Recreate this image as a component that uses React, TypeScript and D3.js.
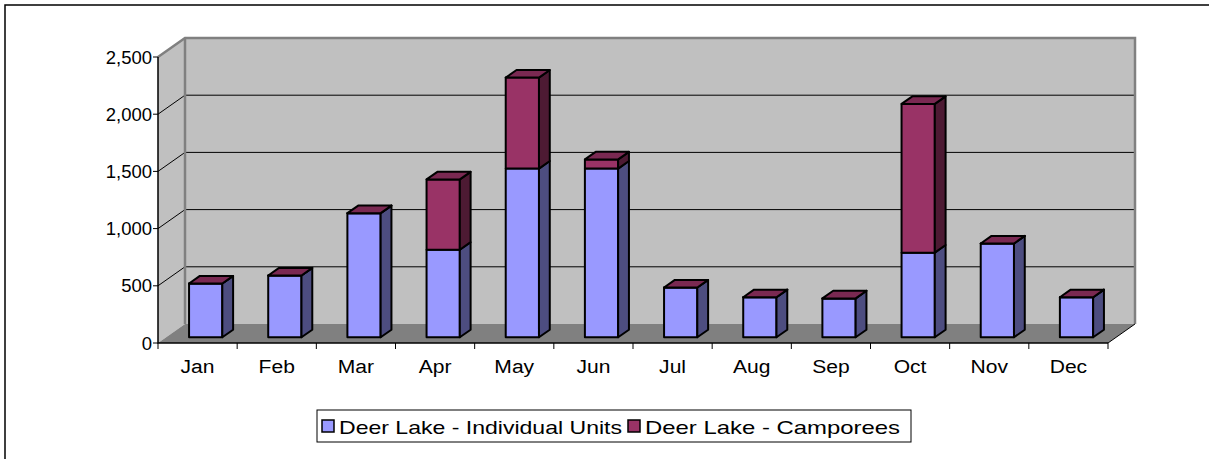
import { useRef, useEffect } from "react";
import * as d3 from "d3";

const months = ["Jan", "Feb", "Mar", "Apr", "May", "Jun", "Jul", "Aug", "Sep", "Oct", "Nov", "Dec"];
const individualUnits = [470, 540, 1085, 765, 1475, 1475, 435, 350, 340, 740, 820, 350];
const camporees = [0, 0, 0, 615, 795, 80, 0, 0, 0, 1300, 0, 0];
const yTicks = [0, 500, 1000, 1500, 2000, 2500];
const seriesNames = ["Deer Lake - Individual Units", "Deer Lake - Camporees"];

const palette = [
    { front: "#9999FF", side: "#4D4D80", top: "#7A7ACC" },
    { front: "#993366", side: "#4D1A33", top: "#7A2952" },
];

// widen text a little, the original was rendered with wide hinted glyphs
const stretch = (sel: d3.Selection<SVGTextElement, unknown, null, undefined>, k: number) => {
    const node = sel.node();
    if (!node) return;
    const w = node.getComputedTextLength();
    sel.attr("textLength", w * k).attr("lengthAdjust", "spacingAndGlyphs");
};

const App: React.FC = () => {
    const svgRef = useRef<SVGSVGElement | null>(null);

    useEffect(() => {
        if (!svgRef.current) return;
        document.body.style.margin = "0";
        const width = 1209;
        const height = 459;
        const font = "'Liberation Sans', Arial, sans-serif";

        const x0 = 158;
        const x1 = 1108;
        const depthX = 27;
        const depthY = -19;
        const f0 = 0.3;
        const f1 = 0.7;

        const x = d3.scaleBand<string>().domain(months).range([x0, x1]).paddingInner(0.58).paddingOuter(0.29);
        const xCat = d3.scaleBand<string>().domain(months).range([x0, x1]);
        const y = d3.scaleLinear().domain([0, 2500]).range([343, 57]);

        const svg = d3.select(svgRef.current);
        svg.selectAll("*").remove();
        svg.attr("width", width).attr("height", height).style("display", "block");

        svg.append("rect").attr("x", 5).attr("y", 5).attr("width", width + 10).attr("height", height + 10)
            .attr("fill", "#fff").attr("stroke", "#000").attr("stroke-width", 1.5);

        const yBottom = y(0);
        const yTop = y(2500);
        const line = d3.line();

        // side wall
        svg.append("path")
            .attr("d", line([[x0, yTop], [x0 + depthX, yTop + depthY], [x0 + depthX, yBottom + depthY], [x0, yBottom]]) + "Z")
            .attr("fill", "#C0C0C0");
        // back wall
        svg.append("rect").attr("x", x0 + depthX).attr("y", yTop + depthY)
            .attr("width", x1 - x0).attr("height", yBottom - yTop)
            .attr("fill", "#C0C0C0");
        // floor
        svg.append("path")
            .attr("d", line([[x0, yBottom], [x0 + depthX, yBottom + depthY], [x1 + depthX, yBottom + depthY], [x1, yBottom]]) + "Z")
            .attr("fill", "#808080");

        // gridlines
        yTicks.slice(1, -1).forEach((t) => {
            svg.append("path")
                .attr("d", line([[x0, y(t)], [x0 + depthX, y(t) + depthY], [x1 + depthX, y(t) + depthY]]))
                .attr("fill", "none").attr("stroke", "#000").attr("stroke-width", 1);
        });

        // wall borders
        svg.append("path")
            .attr("d", line([[x0, yTop], [x0 + depthX, yTop + depthY], [x1 + depthX, yTop + depthY], [x1 + depthX, yBottom + depthY]]))
            .attr("fill", "none").attr("stroke", "#808080").attr("stroke-width", 2.5);
        svg.append("path")
            .attr("d", line([[x0 + depthX, yTop + depthY], [x0 + depthX, yBottom + depthY]]))
            .attr("fill", "none").attr("stroke", "#808080").attr("stroke-width", 2.5);
        svg.append("path")
            .attr("d", line([[x1, yBottom], [x1 + depthX, yBottom + depthY]]))
            .attr("fill", "none").attr("stroke", "#000").attr("stroke-width", 1);

        // axes
        svg.append("path")
            .attr("d", line([[x0, yTop], [x0, yBottom], [x1, yBottom]]))
            .attr("fill", "none").attr("stroke", "#000").attr("stroke-width", 1.5);

        const fmt = d3.format(",d");
        yTicks.forEach((t) => {
            svg.append("line").attr("x1", x0 - 5).attr("x2", x0).attr("y1", y(t)).attr("y2", y(t))
                .attr("stroke", "#000").attr("stroke-width", 1);
            svg.append("text").attr("x", x0 - 6).attr("y", y(t) + 6.5)
                .attr("text-anchor", "end").attr("font-family", font).attr("font-size", 18.5)
                .text(fmt(t));
        });

        months.forEach((m, i) => {
            const cx = xCat(m)!;
            svg.append("line").attr("x1", cx + xCat.bandwidth()).attr("x2", cx + xCat.bandwidth())
                .attr("y1", yBottom).attr("y2", yBottom + 6).attr("stroke", "#000").attr("stroke-width", 1);
            if (i === 0) {
                svg.append("line").attr("x1", cx).attr("x2", cx)
                    .attr("y1", yBottom).attr("y2", yBottom + 6).attr("stroke", "#000").attr("stroke-width", 1);
            }
            const t = svg.append("text").attr("x", cx + xCat.bandwidth() / 2).attr("y", yBottom + 30)
                .attr("text-anchor", "middle").attr("font-family", font).attr("font-size", 18)
                .text(m);
            stretch(t, 1.17);
        });

        // bars
        const p = (px: number, v: number, f: number): [number, number] => [px + f * depthX, y(v) + f * depthY];
        const bars = svg.append("g").attr("stroke", "#000").attr("stroke-width", 2).attr("stroke-linejoin", "round");
        months.forEach((m, i) => {
            const xl = x(m)!;
            const xr = xl + x.bandwidth();
            const segs = [
                [0, individualUnits[i]],
                [individualUnits[i], individualUnits[i] + camporees[i]],
            ];
            segs.forEach(([lo, hi], s) => {
                const c = palette[s];
                bars.append("path")
                    .attr("d", line([p(xl, lo, f0), p(xr, lo, f0), p(xr, hi, f0), p(xl, hi, f0)]) + "Z")
                    .attr("fill", c.front);
                bars.append("path")
                    .attr("d", line([p(xr, lo, f0), p(xr, lo, f1), p(xr, hi, f1), p(xr, hi, f0)]) + "Z")
                    .attr("fill", c.side);
                if (s === segs.length - 1) {
                    bars.append("path")
                        .attr("d", line([p(xl, hi, f0), p(xr, hi, f0), p(xr, hi, f1), p(xl, hi, f1)]) + "Z")
                        .attr("fill", c.top);
                }
            });
        });

        // legend
        const lg = svg.append("g");
        lg.append("rect").attr("x", 317).attr("y", 410).attr("width", 594).attr("height", 32)
            .attr("fill", "#fff").attr("stroke", "#000").attr("stroke-width", 1);
        const items = [{ sx: 322, tx: 339, w: 283 }, { sx: 628, tx: 645, w: 255 }];
        seriesNames.forEach((name, s) => {
            lg.append("rect").attr("x", items[s].sx).attr("y", 420).attr("width", 12).attr("height", 12)
                .attr("fill", palette[s].front).attr("stroke", "#000").attr("stroke-width", 1.5);
            lg.append("text").attr("x", items[s].tx).attr("y", 433.5)
                .attr("font-family", font).attr("font-size", 19)
                .attr("textLength", items[s].w).attr("lengthAdjust", "spacingAndGlyphs")
                .text(name);
        });
    }, []);

    return <svg ref={svgRef} />;
};

export default App;
